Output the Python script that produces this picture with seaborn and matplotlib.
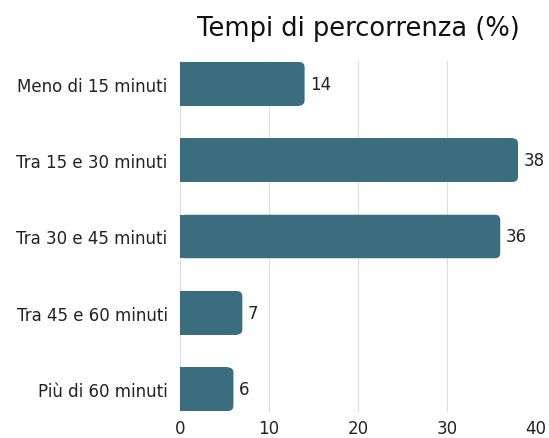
import numpy as np
import pandas as pd
import seaborn as sns
import matplotlib.pyplot as plt
from matplotlib.patches import FancyBboxPatch

categories = ['Meno di 15 minuti', 'Tra 15 e 30 minuti', 'Tra 30 e 45 minuti',
              'Tra 45 e 60 minuti', 'Più di 60 minuti']
values = [14, 38, 36, 7, 6]
ticks = [0, 10, 20, 30, 40]

sns.set_style('white')
plt.rcParams['font.family'] = ['DejaVu Sans']

df = pd.DataFrame({'Tempo': categories, 'Percentuale': values})

fig = plt.figure(figsize=(5.49, 4.39), dpi=100)
ax = fig.add_axes([0.328, 0.059, 0.648, 0.8])
bar_color = '#3a6e7f'
sns.barplot(x='Percentuale', y='Tempo', data=df, color=bar_color, width=0.57,
            saturation=1, ax=ax, zorder=2)

# swap plain rectangles for ones with rounded right end
r = 0.6
for p in list(ax.patches):
    x0, y0, w, h = p.get_x(), p.get_y(), p.get_width(), p.get_height()
    p.remove()
    ax.add_patch(FancyBboxPatch((x0, y0), w, h, boxstyle=f'round,pad=0,rounding_size={r}',
                                mutation_aspect=0.116, facecolor=bar_color,
                                edgecolor='none', zorder=2, clip_on=False))
    ax.add_patch(plt.Rectangle((x0, y0), w - r, h, facecolor=bar_color,
                               edgecolor='none', zorder=2, clip_on=False))
    ax.text(x0 + w + 0.6, y0 + h / 2, f'{w:g}', va='center', ha='left',
            fontsize=12, color='#222222')

ax.set_xlim(0, 40)
ax.set_ylim(4 + 0.3, -0.3)
ax.set_xticks(ticks)
ax.xaxis.grid(True, color='#dddddd', linewidth=0.8, zorder=0)
ax.set_axisbelow(True)
for s in ax.spines.values():
    s.set_visible(False)
ax.tick_params(axis='y', length=0, pad=9, labelsize=12, labelcolor='#222222')
ax.tick_params(axis='x', length=0, pad=5, labelsize=12, labelcolor='#222222')
ax.set_xlabel('')
ax.set_ylabel('')
ax.set_title('Tempi di percorrenza (%)', fontsize=18.5, pad=19, color='#111111')

fig.savefig('out.png', dpi=100)
